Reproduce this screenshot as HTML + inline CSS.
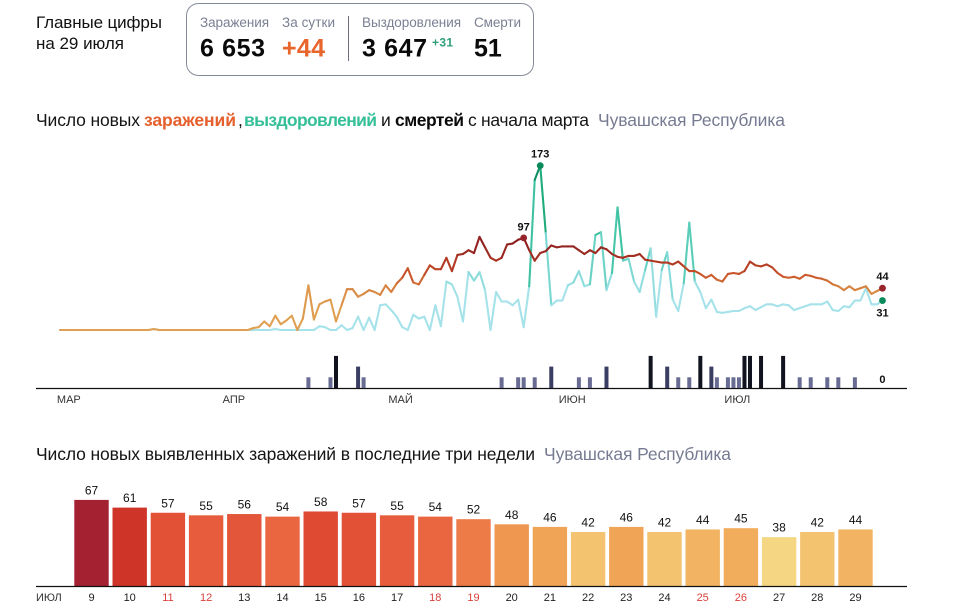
<!DOCTYPE html>
<html lang="ru">
<head>
<meta charset="utf-8">
<title>Главные цифры</title>
<style>
html,body{margin:0;padding:0;background:#fff;}
svg{display:block;font-family:"Liberation Sans","Noto Sans CJK SC",sans-serif;}
</style>
</head>
<body>
<svg id="root" xmlns="http://www.w3.org/2000/svg" width="960" height="614" viewBox="0 0 960 614">
  <g font-size="17" fill="#111">
    <text x="36" y="28" textLength="126">Главные цифры</text>
    <text x="36" y="49" textLength="88">на 29 июля</text>
  </g>
  <g>
    <rect x="186.5" y="3.5" width="347" height="72" rx="12" fill="#fff" stroke="#868b99" stroke-width="1"/>
    <line x1="348.5" y1="16" x2="348.5" y2="61" stroke="#6b6f7c" stroke-width="1"/>
    <g font-size="13.5" fill="#7b8093">
      <text x="200" y="27" textLength="69">Заражения</text>
      <text x="282" y="27" textLength="53">За сутки</text>
      <text x="362" y="27" textLength="99">Выздоровления</text>
      <text x="474" y="27" textLength="47">Смерти</text>
    </g>
    <g font-size="25" font-weight="700" fill="#0a0a0a">
      <text x="200" y="56.5" textLength="65">6 653</text>
      <text x="282" y="56.5" textLength="43" fill="#e8662c">+44</text>
      <text x="362" y="56.5" textLength="65">3 647</text>
      <text x="474" y="56.5">51</text>
    </g>
    <text x="432" y="46.5" font-size="12" font-weight="700" fill="#2f9e78" textLength="21">+31</text>
  </g>

  <g font-size="17.5" fill="#151515">
    <text x="36" y="126" textLength="104">Число новых</text>
    <text x="144" y="126" textLength="92" font-weight="700" fill="#e5602c">заражений</text>
    <text x="238" y="126">,</text>
    <text x="244" y="126" textLength="133" font-weight="700" fill="#35bf97">выздоровлений</text>
    <text x="381" y="126">и</text>
    <text x="395" y="126" textLength="69" font-weight="700" fill="#0a0a0a">смертей</text>
    <text x="468" y="126" textLength="121">с начала марта</text>
    <text x="598" y="126" textLength="187" fill="#767b92">Чувашская Республика</text>
  </g>
  <g id="lineChart"></g>

  <g font-size="17.5" fill="#151515">
    <text x="36" y="460" textLength="499">Число новых выявленных заражений в последние три недели</text>
    <text x="544" y="460" textLength="187" fill="#767b92">Чувашская Республика</text>
  </g>
  <g id="barChart"></g>
</svg>

<script>
const monthLabels = ["МАР", "АПР", "МАЙ", "ИЮН", "ИЮЛ"];
const monthDays = [1.6, 31.5, 61.7, 92.8, 122.7];

const newCases = [0,0,0,0,0,0,0,0,0,0,0,0,0,0,0,0,0,1,0,0,0,0,0,0,0,0,0,0,0,0,0,0,0,0,0,2,3,9,4,15,6,10,15,0,12,47,11,27,30,32,9,26,43,43,35,38,42,40,37,47,40,49,55,65,50,48,58,68,64,64,76,62,79,80,84,81,98,87,76,73,76,90,91,95,97,84,73,81,83,89,87,88,88,88,84,80,84,81,87,85,80,77,76,78,78,80,74,73,72,71,71,69,72,67,62,62,59,55,58,53,51,59,60,59,62,72,68,67,69,66,60,56,55,56,54,58,57,55,54,52,48,46,42,46,42,44,46,38,41,44];
const newRecoveries = [0,0,0,0,0,0,0,0,0,0,0,0,0,0,0,0,0,1,0,0,0,0,0,0,0,0,0,0,0,0,0,0,0,0,0,0,0,0,0,1,0,0,0,0,0,0,0,4,3,0,0,5,0,2,14,0,13,0,26,27,21,14,3,0,16,12,14,0,26,4,51,48,35,9,61,52,61,42,0,40,30,30,26,32,3,46,158,173,102,26,31,31,47,50,62,46,48,100,103,42,60,129,73,75,51,40,63,86,14,63,82,32,20,49,113,51,40,23,32,19,18,19,20,20,23,25,21,24,27,27,25,27,26,21,23,25,27,27,27,30,21,20,25,24,31,31,44,27,27,31];
const newDeaths = [[45,1],[49,1],[50,3],[54,2],[55,1],[80,1],[83,1],[84,1],[86,1],[89,2],[94,1],[96,1],[99,2],[107,3],[110,2],[112,1],[114,1],[116,3],[118,2],[119,1],[121,1],[122,1],[123,1],[124,3],[125,3],[127,3],[131,3],[134,1],[136,1],[139,1],[141,1],[144,1]];

const barDays = [9,10,11,12,13,14,15,16,17,18,19,20,21,22,23,24,25,26,27,28,29];
const barValues = [67,61,57,55,56,54,58,57,55,54,52,48,46,42,46,42,44,45,38,42,44];
const weekendDays = [11,12,18,19,25,26];
const barMonthLabel = "ИЮЛ";

const NS = "http://www.w3.org/2000/svg";
function node(parent, tag, attrs, text) {
  const el = document.createElementNS(NS, tag);
  for (const k in attrs) el.setAttribute(k, attrs[k]);
  if (text !== undefined) el.textContent = text;
  parent.appendChild(el);
  return el;
}
function hexToRgb(h) { return [1, 3, 5].map(function (p) { return parseInt(h.substr(p, 2), 16); }); }
function ramp(stops, v) {
  if (v <= stops[0][0]) return stops[0][1];
  for (let i = 1; i < stops.length; i++) {
    if (v <= stops[i][0]) {
      const t = (v - stops[i - 1][0]) / (stops[i][0] - stops[i - 1][0]);
      const a = hexToRgb(stops[i - 1][1]), b = hexToRgb(stops[i][1]);
      return "rgb(" + a.map(function (c, j) { return Math.round(c + (b[j] - c) * t); }).join(",") + ")";
    }
  }
  return stops[stops.length - 1][1];
}
const caseRamp = [[25, "#e0a052"], [45, "#d6803e"], [58, "#c9562b"], [70, "#b23a23"], [82, "#9a2921"], [97, "#8a1c20"]];
const recRamp = [[40, "#a6e2ea"], [60, "#82d9d6"], [90, "#4cc8ae"], [125, "#27b68a"], [173, "#0b8a5c"]];
const barRamp = [[38, "#f5d682"], [42, "#f3c36f"], [46, "#f0a556"], [52, "#ec7b47"], [55, "#e75c3c"], [58, "#df4a33"], [61, "#cf3429"], [67, "#a32130"]];

/* ----- line chart ----- */
const lineRoot = document.getElementById("lineChart");
const xDay = function (i) { return 60 + 5.52 * i; };
const yVal = function (v) { return 330 - 0.95 * v; };
const yDeath = function (v) { return 388 - 10.7 * v; };

const axisLine = node(lineRoot, "line", { x1: 36, y1: 388.5, x2: 907, y2: 388.5, stroke: "#111", "stroke-width": 1.2 });



monthLabels.forEach(function (m, i) {
  const t = node(lineRoot, "text", { x: xDay(monthDays[i]), y: 403, "font-size": 11, "text-anchor": "middle", fill: "#333" }, m);
  
  
});

newDeaths.forEach(function (d) {
  const h = 10.7 * d[1];
  const fill = d[1] === 1 ? "#686c93" : d[1] === 2 ? "#3a3e63" : "#11131f";
  const r = node(lineRoot, "rect", { x: xDay(d[0]) - 2, y: yDeath(d[1]), width: 4, height: h, fill: fill });
  
  
});

function drawSeries(values, stops, name) {
  const g = node(lineRoot, "g", { fill: "none", "stroke-width": 2.1, "stroke-linecap": "round", "stroke-linejoin": "round" });
  
  
  for (let i = 0; i < values.length - 1; i++) {
    const c = ramp(stops, (values[i] + values[i + 1]) / 2);
    const s = node(g, "line", { x1: xDay(i), y1: yVal(values[i]), x2: xDay(i + 1), y2: yVal(values[i + 1]), stroke: c });
    
    
  }
}
drawSeries(newRecoveries, recRamp, "recoveries-line");
drawSeries(newCases, caseRamp, "cases-line");

function peakMark(values, idx, color, dy, name) {
  const cx = xDay(idx), cy = yVal(values[idx]);
  const c = node(lineRoot, "circle", { cx: cx, cy: cy, r: 3.4, fill: color });
  
  
  const t = node(lineRoot, "text", { x: cx, y: cy + dy, "font-size": 11, "font-weight": 700, "text-anchor": "middle", fill: "#111" }, values[idx]);
  
  
}
const lastIdx = newCases.length - 1;
peakMark(newRecoveries, newRecoveries.indexOf(Math.max.apply(null, newRecoveries)), "#0b8a5c", -8, "recoveries-peak");
peakMark(newCases, newCases.lastIndexOf(97), "#97232b", -7.5, "cases-peak");
peakMark(newCases, lastIdx, "#97232b", -8, "cases-last");
peakMark(newRecoveries, lastIdx, "#0b8a5c", 16, "recoveries-last");

const zeroLabel = node(lineRoot, "text", { x: xDay(lastIdx), y: 383, "font-size": 11, "font-weight": 700, "text-anchor": "middle", fill: "#111" }, 0);



/* ----- bar chart ----- */
const barRoot = document.getElementById("barChart");
const barBase = 586;
const barX = function (i) { return 74.3 + 38.2 * i; };
const barH = function (v) { return 1.285 * v; };

barValues.forEach(function (v, i) {
  const fill = ramp(barRamp, v);
  const r = node(barRoot, "rect", { x: barX(i), y: barBase - barH(v), width: 34.4, height: barH(v), fill: fill });
  
  
  const t = node(barRoot, "text", { x: barX(i) + 17.2, y: barBase - barH(v) - 5.5, "font-size": 12, "text-anchor": "middle", fill: "#111" }, v);
  
  
  const red = weekendDays.indexOf(barDays[i]) >= 0;
  const d = node(barRoot, "text", { x: barX(i) + 17.2, y: 601, "font-size": 11, "text-anchor": "middle", fill: red ? "#d9403a" : "#222" }, barDays[i]);
  
  
});

const barAxis = node(barRoot, "line", { x1: 36, y1: 586.5, x2: 907, y2: 586.5, stroke: "#111", "stroke-width": 1.2 });



const barMonth = node(barRoot, "text", { x: 36, y: 601, "font-size": 11, fill: "#333" }, barMonthLabel);


</script>
</body>
</html>
